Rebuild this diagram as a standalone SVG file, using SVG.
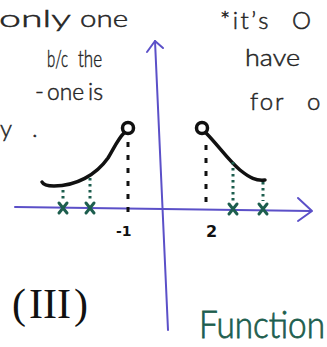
<svg xmlns="http://www.w3.org/2000/svg" width="327" height="347" viewBox="0 0 327 347">
<style>
.note{font-family:"Lato","Open Sans","Liberation Sans",sans-serif;font-weight:300;font-size:24px;fill:#262626;stroke:#262626;stroke-width:0.5}
.axis{stroke:#5b50c8;stroke-width:2;fill:none;stroke-linecap:round;stroke-linejoin:round}
.curve{stroke:#111;stroke-width:3.5;fill:none;stroke-linecap:round}
.dash{stroke:#111;stroke-width:3;stroke-dasharray:5 8;fill:none}
.gdot{stroke:#1d5e4e;stroke-width:3;stroke-dasharray:2.5 3.5;fill:none}
.gx{stroke:#1d5e4e;stroke-width:3;fill:none;stroke-linecap:round}
.lbl{font-family:"DejaVu Sans",sans-serif;font-weight:bold;fill:#111}
.big{font-family:"Liberation Serif",serif;font-size:42px;fill:#111}
</style>
<rect width="327" height="347" fill="#ffffff"/>
<g id="notes-left">
<text class="note" x="-1" y="27" textLength="72" lengthAdjust="spacingAndGlyphs">only</text>
<text class="note" x="80" y="27" textLength="48" lengthAdjust="spacingAndGlyphs">one</text>
<text class="note" x="47" y="67" textLength="21" lengthAdjust="spacingAndGlyphs">b/c</text>
<text class="note" x="78" y="67" textLength="24" lengthAdjust="spacingAndGlyphs">the</text>
<text class="note" x="35" y="100">-</text>
<text class="note" x="47" y="100" textLength="37" lengthAdjust="spacingAndGlyphs">one</text>
<text class="note" x="88" y="100" textLength="15" lengthAdjust="spacingAndGlyphs">is</text>
<text class="note" x="0" y="137">y</text>
<text class="note" x="32" y="137">.</text>
</g>
<g id="notes-right">
<text class="note" x="220" y="29" font-size="26" letter-spacing="2.5">*it’s</text>
<text class="note" x="292" y="29" font-size="27">O</text>
<text class="note" x="245" y="66" textLength="55" lengthAdjust="spacingAndGlyphs">have</text>
<text class="note" x="250" y="110" font-size="26" letter-spacing="2">for</text>
<text class="note" x="307" y="110">o</text>
</g>
<g id="axes">
<path class="axis" d="M155 41 L168 330"/>
<path class="axis" d="M147 52 L155 41 L163 48"/>
<path class="axis" d="M15 207 L311 211"/>
<path class="axis" d="M298 198 L312 211 L298 221"/>
</g>
<g id="left-branch">
<path class="curve" d="M42 182 Q44 186 54 186 C76 186 96 175 108 158 C114 148 118 139 124 133"/>
<circle cx="128" cy="128" r="5.5" fill="#fff" stroke="#111" stroke-width="3.5"/>
<path class="dash" d="M128 142 L128 220"/>
<path class="gdot" d="M63 190 L63 201"/>
<path class="gdot" d="M90 178 L90 201"/>
<path class="gx" d="M59 203 L67 213 M67 203 L59 213"/>
<path class="gx" d="M86 203 L94 213 M94 203 L86 213"/>
<text class="lbl" x="116" y="236" font-size="14">-1</text>
</g>
<g id="right-branch">
<path class="curve" d="M206 133 C218 145 228 160 240 170 C250 178 256 181 265 180"/>
<circle cx="202" cy="128" r="5.5" fill="#fff" stroke="#111" stroke-width="3.5"/>
<path class="dash" d="M206 145 L206 210"/>
<path class="gdot" d="M233 162 L233 201"/>
<path class="gdot" d="M263 182 L263 201"/>
<path class="gx" d="M229 204 L237 214 M237 204 L229 214"/>
<path class="gx" d="M259 204 L267 214 M267 204 L259 214"/>
<text class="lbl" x="206" y="237" font-size="16">2</text>
</g>
<g id="label-III">
<text class="big" x="12" y="318">(<tspan dx="3">III</tspan><tspan dx="3">)</tspan></text>
</g>
<g id="label-function">
<text x="199" y="338" font-family="Lato, Open Sans, Liberation Sans, sans-serif" font-weight="300" font-size="37" fill="#1d5e4e" stroke="#1d5e4e" stroke-width="0.8" textLength="126" lengthAdjust="spacingAndGlyphs">Function</text>
</g>
</svg>
